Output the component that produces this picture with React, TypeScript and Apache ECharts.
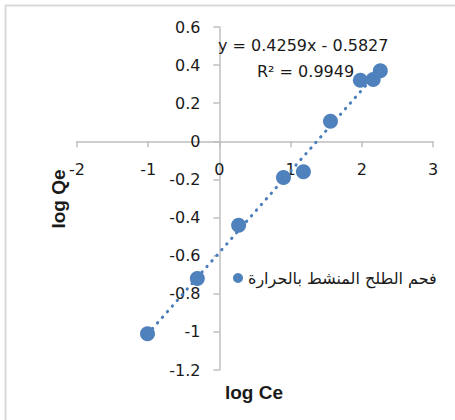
import { useEffect, useRef } from "react";
import * as echarts from "echarts";

// Freundlich isotherm: log Qe against log Ce
const seriesName = "فحم الطلح المنشط بالحرارة";
const logCe = [-1.01, -0.31, 0.27, 0.9, 1.18, 1.56, 1.98, 2.16, 2.26];
const logQe = [-1.01, -0.72, -0.44, -0.19, -0.16, 0.105, 0.32, 0.325, 0.37];

// linear trendline fit
const slope = 0.4259;
const intercept = -0.5827;
const rSquared = 0.9949;

const xRange = [-2, 3];
const xStep = 1;
const yRange = [-1.2, 0.6];
const yStep = 0.2;

const BLUE = "#4f81bd";
const AXIS = "#bfbfbf";
const TEXT = "#1a1a1a";
const FONT = "'DejaVu Sans', 'Liberation Sans', sans-serif";

const W = 455;
const H = 420;
const GRID = { left: 77, right: 22, top: 27, bottom: 50 };

export default function App() {
  const ref = useRef<HTMLDivElement>(null);

  useEffect(() => {
    if (!ref.current) return;
    const chart = echarts.init(ref.current, null, { renderer: "svg" });

    const points = logCe.map((x, i) => [x, logQe[i]]);
    const xMin = Math.min(...logCe);
    const xMax = Math.max(...logCe);
    const trend = [
      [xMin, slope * xMin + intercept],
      [xMax, slope * xMax + intercept],
    ];
    const sign = intercept < 0 ? "-" : "+";
    const equation = `y = ${slope}x ${sign} ${Math.abs(intercept)}`;

    // axes cross at the origin: shift each axis from its grid edge to zero
    const gridW = W - GRID.left - GRID.right;
    const gridH = H - GRID.top - GRID.bottom;
    const xAxisOffset = -(gridH * (0 - yRange[0])) / (yRange[1] - yRange[0]);
    const yAxisOffset = -(gridW * (0 - xRange[0])) / (xRange[1] - xRange[0]);

    chart.setOption({
      animation: false,
      backgroundColor: "#ffffff",
      grid: {
        ...GRID,
        containLabel: false,
        outerBoundsMode: "none",
      },
      xAxis: {
        type: "value",
        position: "bottom",
        offset: xAxisOffset,
        min: xRange[0],
        max: xRange[1],
        interval: xStep,
        splitLine: { show: false },
        axisLine: { show: true, onZero: false, lineStyle: { color: AXIS, width: 1.5 } },
        axisTick: { show: true, length: 6, lineStyle: { color: AXIS, width: 1.5 } },
        axisLabel: { margin: 20, color: TEXT, fontSize: 16, fontFamily: FONT },
      },
      yAxis: {
        type: "value",
        position: "left",
        offset: yAxisOffset,
        min: yRange[0],
        max: yRange[1],
        interval: yStep,
        splitLine: { show: false },
        axisLine: { show: true, onZero: false, lineStyle: { color: AXIS, width: 1.5 } },
        axisTick: { show: true, length: 6, lineStyle: { color: AXIS, width: 1.5 } },
        axisLabel: {
          margin: 19,
          color: TEXT,
          fontSize: 16,
          fontFamily: FONT,
          formatter: (v: number) => String(Math.round(v * 10) / 10),
        },
      },
      legend: {
        show: true,
        data: [seriesName],
        left: 228,
        top: 265,
        icon: "circle",
        itemWidth: 10,
        itemHeight: 10,
        itemGap: 0,
        textStyle: { color: TEXT, fontSize: 16, fontFamily: FONT },
      },
      series: [
        {
          name: "trend",
          type: "line",
          data: trend,
          symbol: "none",
          silent: true,
          z: 1,
          lineStyle: { color: "#4a7ebb", width: 3, type: [0.5, 7], cap: "round" },
        },
        {
          name: seriesName,
          type: "scatter",
          data: points,
          symbol: "circle",
          symbolSize: 15,
          z: 2,
          itemStyle: { color: BLUE, opacity: 1 },
        },
      ],
      graphic: [
        {
          type: "line",
          shape: { x1: 5.5, y1: 5, x2: 5.5, y2: 420 },
          style: { stroke: "#d9d9d9", lineWidth: 2 },
          silent: true,
        },
        {
          type: "line",
          shape: { x1: 5, y1: 5.5, x2: 455, y2: 5.5 },
          style: { stroke: "#d9d9d9", lineWidth: 2 },
          silent: true,
        },
        {
          type: "text",
          x: 218,
          y: 45,
          z: 10,
          style: {
            text: equation,
            fill: TEXT,
            font: `16px ${FONT}`,
            textVerticalAlign: "middle",
          },
        },
        {
          type: "text",
          x: 257,
          y: 71,
          z: 10,
          style: {
            text: `R² = ${rSquared}`,
            fill: TEXT,
            font: `16px ${FONT}`,
            textVerticalAlign: "middle",
          },
        },
        {
          type: "text",
          x: 58,
          y: 199,
          rotation: Math.PI / 2,
          style: {
            text: "log Qe",
            fill: TEXT,
            font: `bold 19px 'Liberation Sans', Arial, sans-serif`,
            textAlign: "center",
            textVerticalAlign: "middle",
          },
        },
        {
          type: "text",
          x: 254,
          y: 392,
          style: {
            text: "log Ce",
            fill: TEXT,
            font: `bold 19px 'Liberation Sans', Arial, sans-serif`,
            textAlign: "center",
            textVerticalAlign: "middle",
          },
        },
      ],
    });

    return () => chart.dispose();
  }, []);

  return <div ref={ref} style={{ width: W, height: H, position: "absolute", left: 0, top: 0 }} />;
}
